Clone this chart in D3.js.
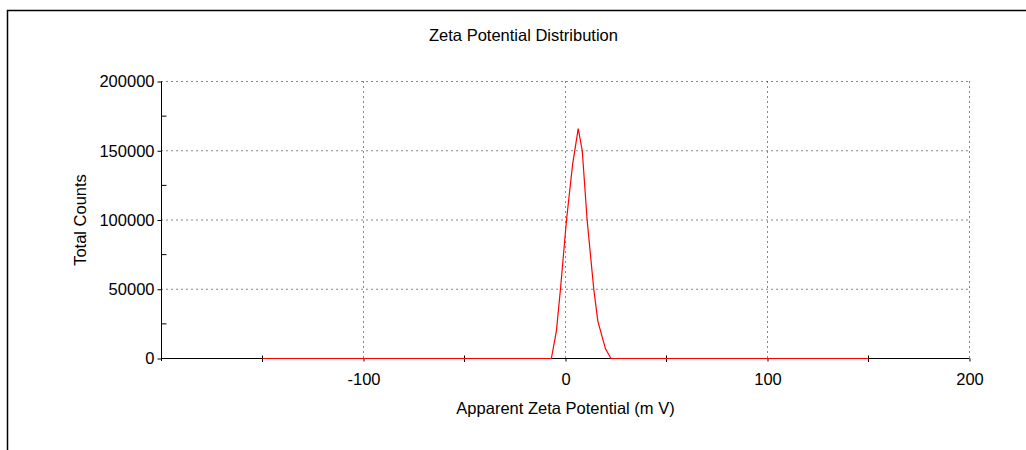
<!DOCTYPE html>
<html>
<head>
<meta charset="utf-8">
<script src="https://cdn.jsdelivr.net/npm/d3@7"></script>
<style>
  html, body { margin: 0; padding: 0; background: #fff; }
  svg { display: block; }
  text { font-family: "Liberation Sans", Arial, sans-serif; fill: #000; }
</style>
</head>
<body>
<svg id="chart" width="1026" height="450"></svg>
<script>
// Zeta potential distribution (mV vs. total counts)
const zetaMv      = [-150, -7, -4.5, -2.5, 0.5, 3.5, 6.3, 8.3, 10.7, 14, 16, 19.8, 22.5, 150];
const totalCounts = [0, 0, 20000, 50000, 100000, 140000, 166000, 150000, 100000, 50000, 27000, 7000, 0, 0];

const xMajorTicks = [-100, 0, 100, 200];
const xMinorTicks = [-150, -50, 50, 150];
const yMajorTicks = [0, 50000, 100000, 150000, 200000];
const yMinorTicks = [25000, 75000, 125000, 175000];

const titleText = "Zeta Potential Distribution";
const xLabelText = "Apparent Zeta Potential (m V)";
const yLabelText = "Total Counts";

const svg = d3.select("#chart");
const fontSize = 16.5;
const plainInt = d => String(Math.round(d)); // hyphen-minus, no grouping

const x = d3.scaleLinear().domain([-200, 200]).range([161.5, 969.5]);
const y = d3.scaleLinear().domain([0, 200000]).range([358.5, 81.5]);

// outer frame
svg.append("path")
  .attr("d", "M7.5,450 V10.5 H1026")
  .attr("fill", "none").attr("stroke", "#000").attr("stroke-width", 1.5);

// title
svg.append("text")
  .attr("x", 523.5).attr("y", 41)
  .attr("text-anchor", "middle")
  .style("font-size", fontSize + "px")
  .text(titleText);

// dotted grid
const grid = svg.append("g").attr("stroke", "#111").attr("stroke-width", 1)
  .attr("stroke-dasharray", "1,4").attr("fill", "none");
grid.selectAll("line.h").data(yMajorTicks.filter(d => d > 0)).join("line")
  .attr("class", "h")
  .attr("x1", x(-200)).attr("x2", x(200))
  .attr("y1", d => y(d)).attr("y2", d => y(d));
grid.selectAll("line.v").data(xMajorTicks).join("line")
  .attr("class", "v")
  .attr("x1", d => x(d)).attr("x2", d => x(d))
  .attr("y1", y(200000)).attr("y2", y(0));

// x axis
const xAxis = d3.axisBottom(x).tickValues(xMajorTicks).tickSize(3).tickPadding(12)
  .tickFormat(plainInt);
const gx = svg.append("g").attr("transform", `translate(0,${y(0)})`).call(xAxis);
gx.select(".domain").remove();
gx.selectAll("text").style("font-size", fontSize + "px").attr("fill", "#000");
gx.selectAll("line").attr("stroke", "#000");

// x minor ticks crossing the axis
svg.append("g").selectAll("line").data(xMinorTicks).join("line")
  .attr("x1", d => x(d)).attr("x2", d => x(d))
  .attr("y1", y(0) - 3).attr("y2", y(0) + 3.5)
  .attr("stroke", "#000");

// y axis
const yAxis = d3.axisLeft(y).tickValues(yMajorTicks).tickSize(4).tickPadding(3)
  .tickFormat(plainInt);
const gy = svg.append("g").attr("transform", `translate(${x(-200)},0)`).call(yAxis);
gy.select(".domain").remove();
gy.selectAll("text").style("font-size", fontSize + "px").attr("fill", "#000");
gy.selectAll("line").attr("stroke", "#000");

// y minor ticks inside the plot
svg.append("g").selectAll("line").data(yMinorTicks).join("line")
  .attr("x1", x(-200)).attr("x2", x(-200) + 5)
  .attr("y1", d => y(d)).attr("y2", d => y(d))
  .attr("stroke", "#000");

// axis lines
svg.append("line")
  .attr("x1", x(-200)).attr("x2", x(200))
  .attr("y1", y(0)).attr("y2", y(0))
  .attr("stroke", "#000");
svg.append("line")
  .attr("x1", x(-200)).attr("x2", x(-200))
  .attr("y1", y(200000)).attr("y2", y(0) + 2.5)
  .attr("stroke", "#000");

// red trace, drawn above the axis line so the zero stretch shows red
const pts = zetaMv.map((v, i) => [v, totalCounts[i]]);
svg.append("path")
  .datum(pts)
  .attr("fill", "none")
  .attr("stroke", "#ff0000")
  .attr("stroke-width", 1.2)
  .attr("d", d3.line().x(d => x(d[0])).y(d => y(d[1])));

// axis titles
svg.append("text")
  .attr("x", x(0)).attr("y", 414)
  .attr("text-anchor", "middle")
  .style("font-size", fontSize + "px")
  .text(xLabelText);

svg.append("text")
  .attr("transform", `translate(86,${(y(0) + y(200000)) / 2}) rotate(-90)`)
  .attr("text-anchor", "middle")
  .style("font-size", fontSize + "px")
  .text(yLabelText);
</script>
</body>
</html>
